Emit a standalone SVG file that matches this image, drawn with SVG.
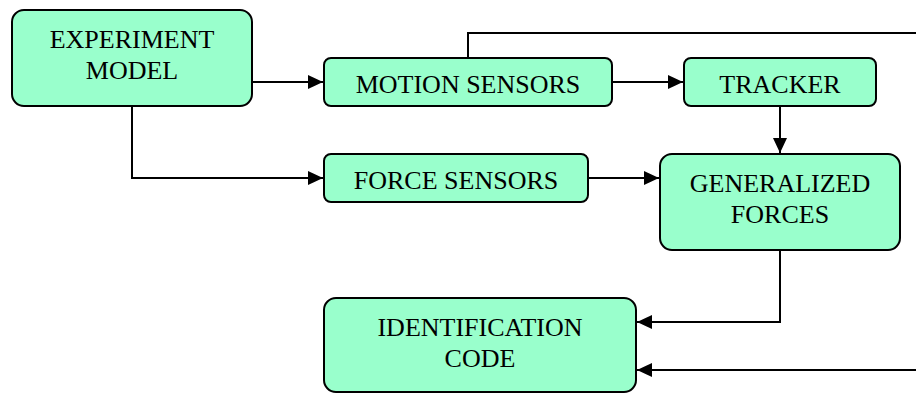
<svg xmlns="http://www.w3.org/2000/svg" width="916" height="394" viewBox="0 0 916 394">
<style>
.box{fill:#99FFCC;stroke:#000;stroke-width:2}
.lbl{font-family:"Liberation Serif","Times New Roman",serif;font-size:26px;fill:#000;text-anchor:middle}
.conn{fill:none;stroke:#000;stroke-width:2}
</style>
<defs>
<marker id="arr" viewBox="0 0 15 14" refX="15" refY="7" markerWidth="15" markerHeight="14" markerUnits="userSpaceOnUse" orient="auto">
<path d="M0,0 L15,7 L0,14 Z" fill="#000"/>
</marker>
</defs>
<rect width="916" height="394" fill="#fff"/>
<g id="connectors">
<path class="conn" d="M252,82 H323" marker-end="url(#arr)"/>
<path class="conn" d="M612,82 H683" marker-end="url(#arr)"/>
<path class="conn" d="M468,58 V33 H916"/>
<path class="conn" d="M780,106 V153" marker-end="url(#arr)"/>
<path class="conn" d="M132,106 V178 H323" marker-end="url(#arr)"/>
<path class="conn" d="M588,178 H659" marker-end="url(#arr)"/>
<path class="conn" d="M780,250 V322 H637" marker-end="url(#arr)"/>
<path class="conn" d="M916,370 H637" marker-end="url(#arr)"/>
</g>
<g id="experiment-model">
<rect class="box" x="12" y="10" width="240" height="96" rx="12"/>
<text class="lbl" x="132" y="48">EXPERIMENT</text>
<text class="lbl" x="132" y="79">MODEL</text>
</g>
<g id="motion-sensors">
<rect class="box" x="324" y="58" width="288" height="48" rx="7"/>
<text class="lbl" x="468" y="93">MOTION SENSORS</text>
</g>
<g id="tracker">
<rect class="box" x="684" y="58" width="192" height="48" rx="7"/>
<text class="lbl" x="780" y="93">TRACKER</text>
</g>
<g id="force-sensors">
<rect class="box" x="324" y="154" width="264" height="48" rx="7"/>
<text class="lbl" x="456" y="189">FORCE SENSORS</text>
</g>
<g id="generalized-forces">
<rect class="box" x="660" y="154" width="240" height="96" rx="12"/>
<text class="lbl" x="780" y="192">GENERALIZED</text>
<text class="lbl" x="780" y="223">FORCES</text>
</g>
<g id="identification-code">
<rect class="box" x="324" y="298" width="312" height="94" rx="12"/>
<text class="lbl" x="480" y="336">IDENTIFICATION</text>
<text class="lbl" x="480" y="367">CODE</text>
</g>
</svg>
